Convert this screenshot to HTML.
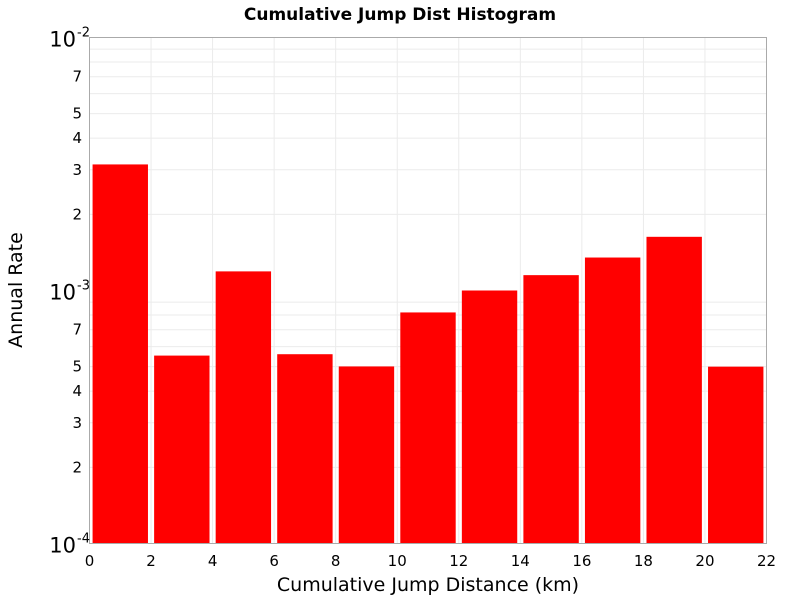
<!DOCTYPE html>
<html><head><meta charset="utf-8"><style>
body{margin:0;background:#fff;font-family:"DejaVu Sans","Liberation Sans",sans-serif}
</style></head><body>
<svg id="chart" width="800" height="600" xmlns="http://www.w3.org/2000/svg" font-family="DejaVu Sans, Liberation Sans, sans-serif">
<text x="400" y="20" text-anchor="middle" font-size="17" font-weight="bold">Cumulative Jump Dist Histogram</text>
<g id="grid"></g>
<g id="bars"></g>
<rect x="89.5" y="37.5" width="677" height="506" fill="none" stroke="#aaa"/>
<g id="ticks"></g>
<text x="428" y="591" text-anchor="middle" font-size="19">Cumulative Jump Distance (km)</text>
<text transform="translate(22,290) rotate(-90)" text-anchor="middle" font-size="19">Annual Rate</text>
</svg>
<script>
const binStarts=[0,2,4,6,8,10,12,14,16,18,20];
const rates=[3.15e-3,5.53e-4,1.19e-3,5.6e-4,5.01e-4,8.19e-4,1.0e-3,1.15e-3,1.35e-3,1.63e-3,5.0e-4];
const xTicks=[0,2,4,6,8,10,12,14,16,18,20,22];
const minorLabels=[2,3,4,5,7];
const X0=89.5,X1=766.5,Y0=543.5,Y1=37.5,XMAX=22,LMIN=-4,LMAX=-2;
const NS="http://www.w3.org/2000/svg";
const sx=v=>X0+(v/XMAX)*(X1-X0);
const sy=v=>Y0-(Math.log10(v)-LMIN)/(LMAX-LMIN)*(Y0-Y1);
function mk(t,a,p){const e=document.createElementNS(NS,t);for(const k in a)e.setAttribute(k,a[k]);p.appendChild(e);return e;}
const grid=document.getElementById('grid'),bars=document.getElementById('bars'),ticks=document.getElementById('ticks');
xTicks.forEach(t=>{
 const l=mk('line',{x1:sx(t),x2:sx(t),y1:Y1,y2:Y0,stroke:'#ebebeb'},grid);
 
 
 const tx=mk('text',{x:sx(t),y:566,'text-anchor':'middle','font-size':'15'},ticks);
 tx.textContent=t;
 
 
});
for(let d=LMIN;d<LMAX;d++){
 for(let m=2;m<=9;m++){
  const v=m*Math.pow(10,d);
  const l=mk('line',{x1:X0,x2:X1,y1:sy(v),y2:sy(v),stroke:'#ebebeb'},grid);
  
  
  if(minorLabels.includes(m)){
   const tx=mk('text',{x:82,y:sy(v)+5,'text-anchor':'end','font-size':'15'},ticks);
   tx.textContent=m;
   
   
  }
 }
}
for(let d=LMIN;d<=LMAX;d++){
 const y=sy(Math.pow(10,d));
 const tx=mk('text',{x:76,y:y+9,'text-anchor':'end','font-size':'21'},ticks);
 tx.textContent='10';
 
 
 const e=mk('text',{x:77,y:y-1,'font-size':'13'},ticks);
 e.textContent=String(d);
 
 
}
binStarts.forEach((s,i)=>{
 const xa=sx(s+0.1),xb=sx(s+1.9),y=sy(rates[i]);
 const r=mk('rect',{x:xa,y:y,width:xb-xa,height:Y0-y,fill:'#ff0000'},bars);
 
 
});
</script>
</body></html>
